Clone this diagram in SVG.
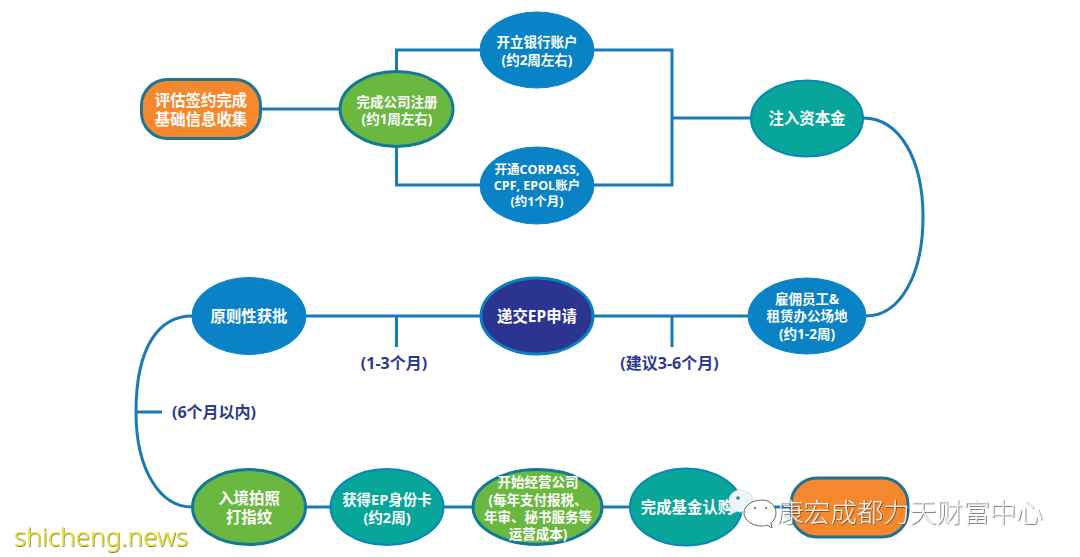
<svg xmlns="http://www.w3.org/2000/svg" width="1080" height="557" viewBox="0 0 1080 557">
<style>
text{font-family:"Open Sans","Noto Sans CJK SC",sans-serif;font-weight:700;text-anchor:middle;dominant-baseline:central}
.n text{fill:#fff;font-size:13.5px}
.b text{font-size:15.4px}
.blue{fill:#0a82c6;stroke:#0a82c6;stroke-width:1}
.teal{fill:#08a59b;stroke:#0b86b8;stroke-width:2}
.green{fill:#6ab83f;stroke:#12789a;stroke-width:3}
.orange{fill:#f5882c;stroke:#1f7394;stroke-width:3}
.navy{fill:#2b3491;stroke:#0c7fc0;stroke-width:3}
.c{fill:none;stroke:#1a7ab6;stroke-width:3}
.l{fill:#2c3a8e;font-size:16px}
.wm{font-family:"Noto Sans CJK SC",sans-serif;font-weight:300;font-size:26.6px;fill:#fff;fill-opacity:.85;text-anchor:start;filter:url(#sh)}
.sc{font-family:"Noto Sans",sans-serif;font-weight:300;font-size:26px;fill:#f4e818;text-anchor:start;filter:url(#sh2)}
</style>
<defs>
<filter id="sh" x="-5%" y="-20%" width="110%" height="140%"><feDropShadow dx="0.7" dy="0.7" stdDeviation="0.6" flood-color="#333"/></filter>
<filter id="sh2" x="-5%" y="-20%" width="110%" height="140%"><feDropShadow dx="0.6" dy="0.8" stdDeviation="0.5" flood-color="#555"/></filter>
</defs>
<rect width="1080" height="557" fill="#fff"/>
<g id="connectors">
<path class="c" d="M262 109H339"/>
<path class="c" d="M396.500 71V50H480M396.500 147V185H480"/>
<path class="c" d="M594 50H672V185H594M672 118H751"/>
<path class="c" d="M863 118C900 118 923 160 923 217C923 275 900 316 866 316"/>
<path class="c" d="M306 316H480M594 316H748"/>
<path class="c" d="M396.500 316V347M672 316V347"/>
<path class="c" d="M192 316C160 316 136 345 136 412C136 470 160 507 192 507"/>
<path class="c" d="M136 412H162"/>
<path class="c" d="M306 507H330M443 507H472M603 507H630M742 507H790"/>
</g>
<g class="n b" id="n-assess"><rect class="orange" x="141.500" y="79.500" width="119" height="59" rx="26"/><text x="201" y="100">评估签约完成</text><text x="201" y="119">基础信息收集</text></g>
<g class="n" id="n-register"><ellipse class="green" cx="396.500" cy="109" rx="56.500" ry="37.500"/><text x="397" y="102">完成公司注册</text><text x="397" y="119">(约1周左右)</text></g>
<g class="n" id="n-bank"><ellipse class="blue" cx="537" cy="50" rx="57" ry="38"/><text x="537" y="42">开立银行账户</text><text x="537" y="60">(约2周左右)</text></g>
<g class="n" id="n-corpass"><ellipse class="blue" cx="537" cy="185.500" rx="57" ry="38.500"/><text x="537" y="169" style="font-size:12.5px">开通CORPASS,</text><text x="537" y="185" style="font-size:12.5px">CPF, EPOL账户</text><text x="537" y="201" style="font-size:12.5px">(约1个月)</text></g>
<g class="n b" id="n-capital"><ellipse class="teal" cx="807" cy="118.500" rx="56" ry="38"/><text x="807" y="118">注入资本金</text></g>
<g class="n" id="n-hire"><ellipse class="blue" cx="807" cy="316" rx="59" ry="38"/><text x="807" y="299">雇佣员工&amp;</text><text x="807" y="316">租赁办公场地</text><text x="807" y="334">(约1-2周)</text></g>
<g class="n b" id="n-submit"><ellipse class="navy" cx="537" cy="316" rx="56" ry="38"/><text x="537" y="316">递交EP申请</text></g>
<g class="n b" id="n-approve"><ellipse class="blue" cx="249" cy="316" rx="57" ry="38.500"/><text x="249" y="316">原则性获批</text></g>
<g class="n b" id="n-entry"><ellipse class="green" cx="249" cy="507" rx="56.500" ry="37.500"/><text x="249" y="498">入境拍照</text><text x="249" y="517">打指纹</text></g>
<g class="n" id="n-card"><ellipse class="teal" cx="387" cy="507" rx="56.500" ry="38"/><text x="387" y="499" style="font-size:14.500px">获得EP身份卡</text><text x="387" y="517" style="font-size:14.500px">(约2周)</text></g>
<g class="n" id="n-operate"><ellipse class="green" cx="537.500" cy="507" rx="64.500" ry="37.500"/><text x="538" y="482">开始经营公司</text><text x="538" y="500">(每年支付报税、</text><text x="538" y="517">年审、秘书服务等</text><text x="538" y="534">运营成本)</text></g>
<g class="n b" id="n-fund"><ellipse class="teal" cx="686" cy="507" rx="56" ry="38.500"/><text x="687" y="507">完成基金认购</text></g>
<g id="n-end"><rect class="orange" x="791" y="478" width="117" height="59" rx="26"/></g>
<g id="labels">
<text class="l" x="394" y="363">(1-3个月)</text>
<text class="l" x="669.500" y="363">(建议3-6个月)</text>
<text class="l" x="214" y="412">(6个月以内)</text>
</g>
<g id="watermark">
<path d="M741 490c-7 0-12 5-12 11 0 3 1 6 4 8l-2 5 6-3c1 0 3 1 4 1 7 0 12-5 12-11s-5-11-12-11z" fill="#eef4f7" stroke="#dfe6ea"/>
<circle cx="738" cy="498" r="1.800" fill="#2f7f8a"/>
<path d="M762 500c-10 0-18 6-18 13s8 13 18 13c2 0 3 0 5-1l5 3-1-5c3-2 5-6 5-10 0-7-6-13-14-13z" fill="#fff" stroke="#666" stroke-width="1"/>
<circle cx="755" cy="508" r="1" fill="#555"/><circle cx="766" cy="508" r="1" fill="#555"/>
<text class="wm" x="777" y="510">康宏成都力天财富中心</text>
<text class="sc" x="14" y="536">shicheng.news</text>
</g>
</svg>
